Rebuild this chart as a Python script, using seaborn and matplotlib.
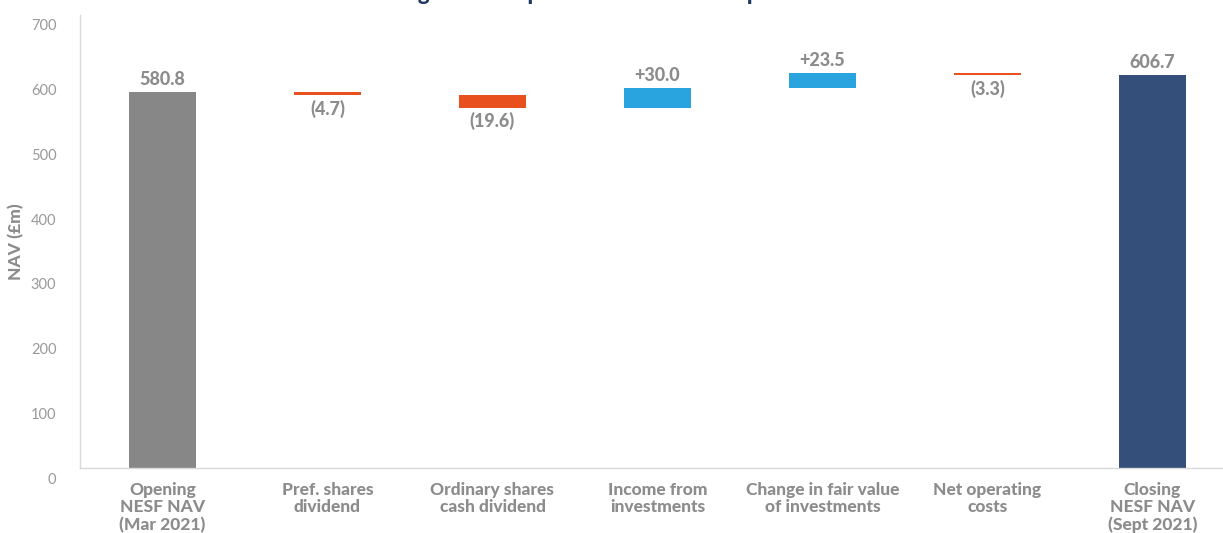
import numpy as np
import pandas as pd
import seaborn as sns
import matplotlib.pyplot as plt
from matplotlib.transforms import ScaledTranslation

# data
categories = ['Opening\nNESF NAV\n(Mar 2021)', 'Pref. shares\ndividend',
              'Ordinary shares\ncash dividend', 'Income from\ninvestments',
              'Change in fair value\nof investments', 'Net operating\ncosts',
              'Closing\nNESF NAV\n(Sept 2021)']
opening_nav = 580.8
changes = [-4.7, -19.6, 30.0, 23.5, -3.3]
closing_nav = 606.7
value_labels = ['580.8', '(4.7)', '(19.6)', '+30.0', '+23.5', '(3.3)', '606.7']

bar_colors = ['#878787', '#E8501E', '#E8501E', '#29A4DE', '#29A4DE', '#E8501E', '#34507A']
label_grey = '#8C8C8C'

# waterfall geometry from the data
levels = np.concatenate([[opening_nav], opening_nav + np.cumsum(changes)])
bottoms = [0.0]
heights = [opening_nav]
for i, d in enumerate(changes):
    bottoms.append(min(levels[i], levels[i + 1]))
    heights.append(abs(d))
bottoms.append(0.0)
heights.append(closing_nav)
df = pd.DataFrame({'cat': categories, 'height': heights, 'bottom': bottoms})

sns.set_style('white')
plt.rcParams['font.family'] = ['Lato', 'DejaVu Sans']

fig = plt.figure(figsize=(12.23, 5.33), dpi=100)
ax = fig.add_axes([80 / 1223, 65 / 533, 1155 / 1223, 453 / 533])

sns.barplot(data=df, x='cat', y='height', bottom=df['bottom'].values,
            width=0.41, color='#878787', ax=ax, linewidth=0)
for patch, c in zip(ax.patches, bar_colors):
    patch.set_facecolor(c)

# value labels
for i, (b, h, lab) in enumerate(zip(bottoms, heights, value_labels)):
    neg = lab.startswith('(')
    if neg:
        ax.annotate(lab, (i, b), xytext=(0, -3), textcoords='offset points',
                    ha='center', va='top', fontsize=13, fontweight='black', color=label_grey)
    else:
        ax.annotate(lab, (i, b + h), xytext=(0, 3), textcoords='offset points',
                    ha='center', va='bottom', fontsize=13, fontweight='black', color=label_grey)

ax.set_ylim(0, 700)
ax.set_yticks(range(0, 701, 100))
ax.set_xlabel('')
ax.set_ylabel('NAV (£m)', fontsize=12.5, fontweight='black', color=label_grey, labelpad=5)
ax.tick_params(axis='y', length=0, pad=17, labelsize=10.5, labelcolor='#999999')
ax.tick_params(axis='x', length=0, pad=10)
ax.set_xticks(range(len(categories)))
ax.set_xticklabels(categories, fontsize=12.5, fontweight='black', color=label_grey,
                   linespacing=1.1, va='top')
offset = ScaledTranslation(0, -0.1, fig.dpi_scale_trans)
for t in ax.get_yticklabels():
    t.set_transform(t.get_transform() + offset)

for s in ['top', 'right']:
    ax.spines[s].set_visible(False)
for s in ['left', 'bottom']:
    ax.spines[s].set_color('#D9D9D9')
    ax.spines[s].set_linewidth(1)

# title sits mostly above the canvas, as in the cropped original
fig.text(200 / 1223, 1.0, 'NAV movement during H1 2021 period from Mar to September 2021',
         ha='left', va='baseline', fontsize=16, fontweight='black', color='#1F3864')

fig.savefig('out.png', dpi=100)
